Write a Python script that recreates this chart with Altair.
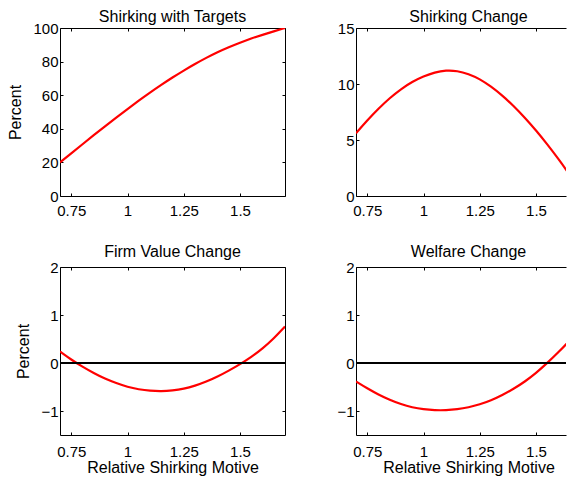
import altair as alt
import pandas as pd

# relative shirking motive (x)
motive = [0.70, 0.75, 0.80, 0.85, 0.90, 0.95, 1.00, 1.05, 1.10, 1.15, 1.20,
          1.25, 1.30, 1.35, 1.40, 1.45, 1.50, 1.55, 1.60, 1.65, 1.70]

shirking_targets = [20.0, 25.4, 30.8, 36.2, 41.5, 46.7, 51.8, 56.75, 61.55, 66.15, 70.55,
                    74.7, 78.6, 82.25, 85.65, 88.6, 91.3, 93.8, 95.9, 98.0, 100.0]
shirking_change = [5.6, 6.75, 7.8, 8.75, 9.55, 10.2, 10.68, 11.05, 11.23, 11.18, 10.9,
                   10.45, 9.78, 8.98, 8.05, 7.0, 5.86, 4.62, 3.3, 1.9, 0.45]
firm_value_change = [0.24, 0.07, -0.08, -0.21, -0.33, -0.42, -0.50, -0.55, -0.58, -0.59, -0.575,
                     -0.54, -0.475, -0.39, -0.285, -0.16, -0.025, 0.125, 0.30, 0.51, 0.76]
welfare_change = [-0.385, -0.53, -0.66, -0.77, -0.86, -0.925, -0.965, -0.985, -0.985, -0.965, -0.925,
                  -0.865, -0.78, -0.67, -0.54, -0.39, -0.21, 0.0, 0.225, 0.47, 0.74]

x_ticks = [0.75, 1, 1.25, 1.5]
zero_level = [0]

FONT = "Liberation Sans"
W = 225
H = 168


def panel(values, title, y_domain, y_ticks, x_domain, width,
          y_title=None, x_title=None, zero_line=False, right_side=True,
          label_pad=7, title_offset=-4):
    df = pd.DataFrame({"motive": motive, "value": values})
    base = alt.Chart(df)
    x_scale = alt.Scale(domain=x_domain, nice=False, zero=False)
    y_scale = alt.Scale(domain=y_domain, nice=False, zero=False)

    # panels cut by the page edge keep their texts centred on the full box
    centre_dx = (W - width) / 2

    line = base.mark_line(color="#ff0000", strokeWidth=2.2, clip=True,
                          interpolate="basis").encode(
        x=alt.X("motive:Q", scale=x_scale,
                axis=alt.Axis(orient="bottom", values=x_ticks,
                              labelExpr="format(datum.value, '~g')",
                              title=x_title, titleX=W / 2, offset=-3,
                              tickSize=3, domain=False, grid=False,
                              labelPadding=label_pad, titlePadding=0)),
        y=alt.Y("value:Q", scale=y_scale,
                axis=alt.Axis(orient="left", values=y_ticks, title=y_title,
                              offset=-3, tickSize=3, domain=False, grid=False,
                              labelPadding=2, titlePadding=9.3, minExtent=0)),
    )

    # inward ticks on the top (and right) edges, like the original box axes
    top_x = alt.X("motive:Q", scale=x_scale,
                  axis=alt.Axis(orient="top", values=x_ticks, labels=False,
                                title=None, offset=-3, tickSize=3,
                                domain=False, grid=False, minExtent=0))
    if right_side:
        right_y = alt.Y("value:Q", scale=y_scale,
                        axis=alt.Axis(orient="right", values=y_ticks,
                                      labels=False, title=None, offset=-3,
                                      tickSize=3, domain=False, grid=False,
                                      minExtent=0))
    else:
        right_y = alt.Y("value:Q", scale=y_scale, axis=None)
    frame = base.mark_point(opacity=0, size=1, clip=True).encode(x=top_x, y=right_y)

    layers = [line, frame]
    if zero_line:
        rule = alt.Chart(pd.DataFrame({"value": zero_level})).mark_rule(
            color="black", strokeWidth=2
        ).encode(y=alt.Y("value:Q", scale=y_scale, axis=None))
        layers.append(rule)

    props = dict(
        width=width, height=H,
        title=alt.TitleParams(title, font=FONT, fontSize=16,
                              fontWeight="normal", color="black",
                              offset=title_offset, dx=centre_dx),
    )
    if not right_side:
        # the right edge of these panels runs off the page: skip it
        props["view"] = alt.ViewBackground(strokeDash=[width, H, 2 * (width + H)])

    return alt.layer(*layers).resolve_axis(
        x="independent", y="independent"
    ).properties(**props)


left_dom = [0.7, 1.7]
right_w = 210
right_dom = [0.7, 0.7 + right_w / W]

tl = panel(shirking_targets, "Shirking with Targets", [0, 100],
           [0, 20, 40, 60, 80, 100], left_dom, W, y_title="Percent")
tr = panel(shirking_change, "Shirking Change", [0, 15], [0, 5, 10, 15],
           right_dom, right_w, right_side=False)
bl = panel(firm_value_change, "Firm Value Change", [-1.5, 2], [-1, 0, 1, 2],
           left_dom, W, y_title="Percent",
           x_title="Relative Shirking Motive", zero_line=True,
           label_pad=9, title_offset=0.3)
br = panel(welfare_change, "Welfare Change", [-1.5, 2], [-1, 0, 1, 2],
           right_dom, right_w, x_title="Relative Shirking Motive",
           zero_line=True, right_side=False, label_pad=9, title_offset=0.3)

chart = alt.concat(tl, tr, bl, br, columns=2, spacing=71).properties(
    bounds="flush", padding={"left": -1, "top": 0, "right": 0, "bottom": 0}
).configure_view(
    stroke="black", strokeWidth=1
).configure_axis(
    labelFont=FONT, labelFontSize=15, labelColor="black",
    titleFont=FONT, titleFontSize=16, titleColor="black",
    titleFontWeight="normal", tickColor="black", tickWidth=1,
)

chart.save("out.html", embed_options={"renderer": "svg", "actions": False})
